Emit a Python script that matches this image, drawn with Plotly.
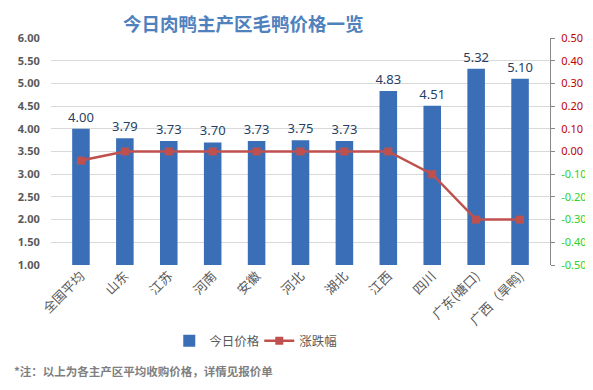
import plotly.graph_objects as go

categories = ["全国平均", "山东", "江苏", "河南", "安徽", "河北", "湖北", "江西", "四川", "广东(塘口)", "广西（旱鸭)"]
prices = [4.00, 3.79, 3.73, 3.70, 3.73, 3.75, 3.73, 4.83, 4.51, 5.32, 5.10]
changes = [-0.04, 0.00, 0.00, 0.00, 0.00, 0.00, 0.00, 0.00, -0.10, -0.30, -0.30]
left_ticks = [1.0, 1.5, 2.0, 2.5, 3.0, 3.5, 4.0, 4.5, 5.0, 5.5, 6.0]
right_ticks = [-0.5, -0.4, -0.3, -0.2, -0.1, 0.0, 0.1, 0.2, 0.3, 0.4, 0.5]

right_text = [
    f"<span style='color:{'#c00000' if v >= 0 else '#2ed12e'}'>{v:.2f}</span>"
    for v in right_ticks
]

cjk = "Noto Sans CJK SC, sans-serif"
num = "Noto Sans, sans-serif"

W, H = 585, 382  # page body has an 8px default margin

fig = go.Figure()
fig.add_trace(go.Bar(
    x=categories, y=prices, name="今日价格",
    marker=dict(color="#3a6fb8", line=dict(width=0)),
    width=0.4,
    text=[f"{v:.2f}" for v in prices], textposition="outside",
    constraintext="none",
    textfont=dict(color="#263f63", size=13, family="Noto Sans, sans-serif"),
    cliponaxis=False,
))
fig.add_trace(go.Scatter(
    x=categories, y=changes, name="涨跌幅", yaxis="y2",
    mode="lines+markers",
    line=dict(color="#c0504d", width=2.5),
    marker=dict(symbol="square", size=8, color="#c0504d"),
))

fig.update_layout(
    width=W, height=H,
    margin=dict(l=43, r=43, t=30, b=125, pad=0),
    paper_bgcolor="white", plot_bgcolor="white",
    font=dict(family=cjk, color="#595959"),
    showlegend=True,
    legend=dict(orientation="h", x=0.237, xanchor="left", y=-0.335, yanchor="middle",
                font=dict(size=12.5, color="#595959"), itemwidth=30, traceorder="normal",
                entrywidth=45, entrywidthmode="pixels"),
    xaxis=dict(tickangle=-45, tickfont=dict(size=13, color="#595959"),
               showgrid=False, showline=False, ticks="", automargin=False),
    yaxis=dict(range=[1, 6], tickvals=left_ticks,
               ticktext=[f"{v:.2f}" for v in left_ticks],
               tickfont=dict(size=11, color="#595959", family=num, weight="bold"),
               showgrid=True, gridcolor="#d9d9d9", gridwidth=1,
               ticks="outside", ticklen=8, tickcolor="rgba(0,0,0,0)",
               showline=False, zeroline=False, automargin=False),
    yaxis2=dict(range=[-0.5, 0.5], tickvals=right_ticks, ticktext=right_text,
                overlaying="y", side="right",
                tickfont=dict(size=11, family=num),
                showgrid=False, zeroline=False,
                showline=True, linecolor="#888888", linewidth=1,
                ticks="outside", ticklen=4, tickcolor="#888888", automargin=False,
                ticklabelstandoff=4, ticklabeloverflow="allow"),
    annotations=[
        dict(text="<b>今日肉鸭主产区毛鸭价格一览</b>", xref="paper", yref="paper",
             x=(235 - 43) / 499, y=1 + 15 / 227, xanchor="center", yanchor="middle",
             showarrow=False,
             font=dict(size=18.5, color="#4f81bd", family=cjk)),
        dict(text="*注：以上为各主产区平均收购价格，详情见报价单", xref="paper", yref="paper",
             x=-0.078, y=-0.467, xanchor="left", yanchor="middle", showarrow=False,
             font=dict(size=11.5, color="#7f7f7f", weight="bold")),
    ],
)

fig.write_html("out.html")
